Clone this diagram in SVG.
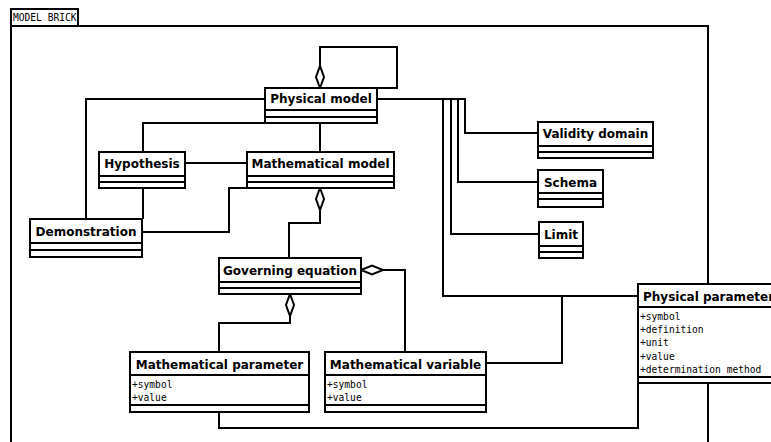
<svg xmlns="http://www.w3.org/2000/svg" width="771" height="442" viewBox="0 0 771 442">
<style>
.ln{fill:none;stroke:#000;stroke-width:2}
.bx{fill:#fff;stroke:#000;stroke-width:2}
.dia{fill:#fff;stroke:#000;stroke-width:2;stroke-linejoin:miter}
.nm{font-family:"DejaVu Sans",sans-serif;font-weight:bold;font-size:12px;fill:#000;text-anchor:middle}
.at{font-family:"DejaVu Sans Mono",monospace;font-size:9.6px;fill:#000}
</style>
<rect width="771" height="442" fill="#fff"/>
<g id="frame">
<rect x="11" y="9" width="67" height="17" class="bx"/>
<text x="13" y="21" class="at">MODEL BRICK</text>
<path d="M11,442 V26 H708 V442" class="ln"/>
</g>
<g id="connectors">
<path d="M320,66 V47 H397 V88 H377" class="ln"/>
<polygon points="320,88 324,77 320,66 316,77" class="dia"/>
<path d="M265,99 H86 V219" class="ln"/>
<path d="M265,123 H143 V152" class="ln"/>
<path d="M320,123 V152" class="ln"/>
<path d="M377,99 H465 V133 H538" class="ln"/>
<path d="M458,99 V182 H538" class="ln"/>
<path d="M451,99 V234 H539" class="ln"/>
<path d="M443,99 V296 H638" class="ln"/>
<path d="M185,163 H247" class="ln"/>
<path d="M143,188 V219" class="ln"/>
<path d="M247,188 H229 V232 H142" class="ln"/>
<path d="M320,210 V223 H289 V258" class="ln"/>
<polygon points="320,188 324,199 320,210 316,199" class="dia"/>
<path d="M290,316 V323 H219 V352" class="ln"/>
<polygon points="290,294 294,305 290,316 286,305" class="dia"/>
<path d="M383,270 H405 V352" class="ln"/>
<polygon points="361,270 372,265.5 383,270 372,274.5" class="dia"/>
<path d="M486,363 H562 V296" class="ln"/>
<path d="M219,412 V428 H638 V383" class="ln"/>
</g>
<g id="physical-model">
<rect x="265" y="88" width="112" height="35" class="bx"/>
<path d="M265,110 H377 M265,117 H377" class="ln"/>
<text x="321" y="103.4" class="nm">Physical model</text>
</g>
<g id="hypothesis">
<rect x="99" y="152" width="86" height="36" class="bx"/>
<path d="M99,176 H185 M99,182 H185" class="ln"/>
<text x="142" y="168.4" class="nm">Hypothesis</text>
</g>
<g id="mathematical-model">
<rect x="247" y="152" width="147" height="36" class="bx"/>
<path d="M247,176 H394 M247,182 H394" class="ln"/>
<text x="320.5" y="168.4" class="nm">Mathematical model</text>
</g>
<g id="demonstration">
<rect x="30" y="219" width="112" height="38" class="bx"/>
<path d="M30,243 H142 M30,250 H142" class="ln"/>
<text x="86" y="236" class="nm">Demonstration</text>
</g>
<g id="validity-domain">
<rect x="538" y="122" width="115" height="36" class="bx"/>
<path d="M538,146 H653 M538,152 H653" class="ln"/>
<text x="595.5" y="138.4" class="nm">Validity domain</text>
</g>
<g id="schema">
<rect x="538" y="170" width="65" height="37" class="bx"/>
<path d="M538,193 H603 M538,199 H603" class="ln"/>
<text x="570.5" y="186.7" class="nm">Schema</text>
</g>
<g id="limit">
<rect x="539" y="222" width="44" height="36" class="bx"/>
<path d="M539,246 H583 M539,252 H583" class="ln"/>
<text x="561" y="238.7" class="nm">Limit</text>
</g>
<g id="governing-equation">
<rect x="219" y="258" width="142" height="36" class="bx"/>
<path d="M219,282 H361 M219,288 H361" class="ln"/>
<text x="290" y="274.7" class="nm">Governing equation</text>
</g>
<g id="mathematical-parameter">
<rect x="130" y="352" width="179" height="60" class="bx"/>
<path d="M130,375 H309 M130,405 H309" class="ln"/>
<text x="219.5" y="368.7" class="nm">Mathematical parameter</text>
<text x="132" y="388" class="at">+symbol</text>
<text x="132" y="401" class="at">+value</text>
</g>
<g id="mathematical-variable">
<rect x="325" y="352" width="161" height="60" class="bx"/>
<path d="M325,375 H486 M325,405 H486" class="ln"/>
<text x="405.5" y="368.7" class="nm">Mathematical variable</text>
<text x="327" y="388" class="at">+symbol</text>
<text x="327" y="401" class="at">+value</text>
</g>
<g id="physical-parameter">
<rect x="638" y="284" width="150" height="99" class="bx"/>
<path d="M638,307 H788 M638,377 H788" class="ln"/>
<text x="643" y="301" class="nm" style="text-anchor:start">Physical parameter</text>
<text x="640" y="320" class="at">+symbol</text>
<text x="640" y="333.2" class="at">+definition</text>
<text x="640" y="346.4" class="at">+unit</text>
<text x="640" y="359.6" class="at">+value</text>
<text x="640" y="372.8" class="at">+determination method</text>
</g>
</svg>
